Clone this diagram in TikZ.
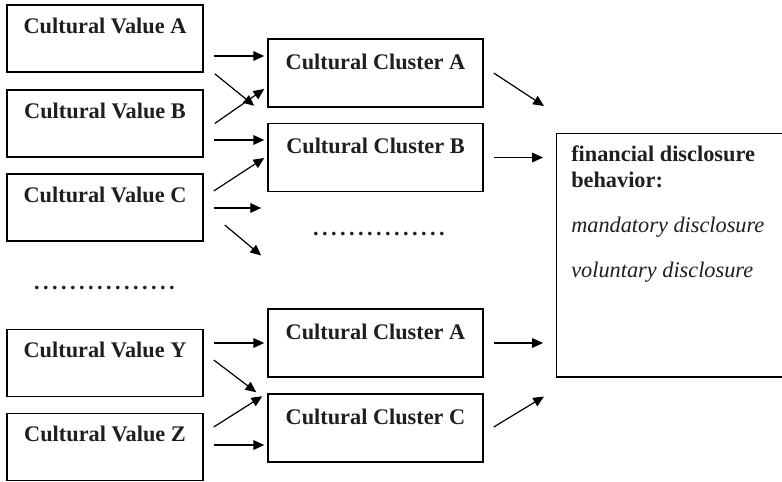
\documentclass[tikz,border=0pt]{standalone}
\usepackage{fontspec}
\setmainfont{Liberation Serif}
\usetikzlibrary{arrows.meta,calc}
\newcommand{\dotrow}[1]{\foreach \k in {1,...,#1}{\makebox[0.225cm]{.}}}
\begin{document}
\begin{tikzpicture}[x=0.025cm, y=-0.025cm,
    every node/.style={font=\fontsize{15.86}{18.5}\selectfont, text=black!88},
    valbox/.style={draw, line width=1.05pt, minimum width=4.9cm, minimum height=1.675cm,
      inner ysep=0pt, text height=0.7cm, text depth=0.975cm, font=\fontsize{15.86}{18.5}\selectfont\bfseries},
    clubox/.style={draw, line width=1.05pt, minimum width=5.375cm, minimum height=1.7cm,
      inner ysep=0pt, text height=0.75cm, text depth=0.95cm, font=\fontsize{15.86}{18.5}\selectfont\bfseries},
    arr/.style={line width=0.85pt, -{Triangle[length=0.27cm, width=0.24cm]}}]
    \clip (0,0) rectangle (782,481);
    % cultural values
    \node[valbox] (va) at (105,38.5) {Cultural Value A};
    \node[valbox] (vb) at (105,123.5) {Cultural Value B};
    \node[valbox] (vc) at (105,207.5) {Cultural Value C};
    \node[valbox] (vy) at (105,363) {Cultural Value Y};
    \node[valbox] (vz) at (105,447) {Cultural Value Z};
    \node[font=\fontsize{15.86}{18.5}\selectfont\bfseries, inner sep=0pt, anchor=base] (ldots) at (104.5,289) {\dotrow{16}};
    % cultural clusters
    \node[clubox] (cla) at (375.5,73) {Cultural Cluster A};
    \node[clubox] (clb) at (375.5,157.5) {Cultural Cluster B};
    \node[clubox] (cla2) at (375.5,343) {Cultural Cluster A};
    \node[clubox] (clc) at (375.5,428) {Cultural Cluster C};
    \node[font=\fontsize{15.86}{18.5}\selectfont\bfseries, inner sep=0pt, anchor=base] (mdots) at (379,235) {\dotrow{15}};
    % disclosure behaviour
    \node[draw, line width=1.05pt, minimum width=7cm, minimum height=6.075cm, anchor=north west] (fin) at (556,133) {};
    \node[align=left, inner sep=0pt, anchor=base west] (fintxt) at ($(fin.north west)+(15,144)$)
      {\textbf{financial disclosure}\\\textbf{behavior:}\\[0.475cm]\textit{mandatory disclosure}\\[0.45cm]\textit{voluntary disclosure}};
    % arrows
    \draw[arr] ($(va.east)+(10,17.5)$) -- ($(va.east -| cla.west)+(-3,17.5)$);
    \draw[arr] ($(va.south east)+(11,1)$) -- ($(cla.south west)+(-13,-2)$);
    \draw[arr] ($(vb.east)+(11,0)$) -- ($(cla.west)+(-3,16)$);
    \draw[arr] ($(vb.east)+(10,16.5)$) -- ($(vb.east -| clb.west)+(-3,16.5)$);
    \draw[arr] ($(vc.east)+(10,-16.5)$) -- ($(clb.west)+(-3,0.5)$);
    \draw[arr] ($(vc.east)+(10,0.5)$) -- ($(vc.east -| mdots.west)+(-50,0.5)$);
    \draw[arr] ($(vc.east)+(21,17.5)$) -- ($(mdots.west)+(-50,22)$);
    \draw[arr] ($(vy.east)+(10,-20)$) -- ($(cla2.west)+(-3,0)$);
    \draw[arr] ($(vy.east)+(10,-3)$) -- ($(clc.north west)+(-11,-1)$);
    \draw[arr] ($(vz.east)+(10,-20)$) -- ($(clc.north west)+(-5,3)$);
    \draw[arr] ($(vz.east)+(10,-2)$) -- ($(vz.east -| clc.west)+(-3,-2)$);
    \draw[arr] ($(cla.east)+(10,0)$) -- ($(fin.north west)+(-12,-27)$);
    \draw[arr] ($(clb.east)+(10,0)$) -- ($(clb.east -| fin.west)+(-13,0)$);
    \draw[arr] ($(cla2.east)+(10,0)$) -- ($(cla2.east -| fin.west)+(-13,0)$);
    \draw[arr] ($(clc.east)+(10,-1)$) -- ($(fin.south west)+(-12,19)$);
\end{tikzpicture}
\end{document}
